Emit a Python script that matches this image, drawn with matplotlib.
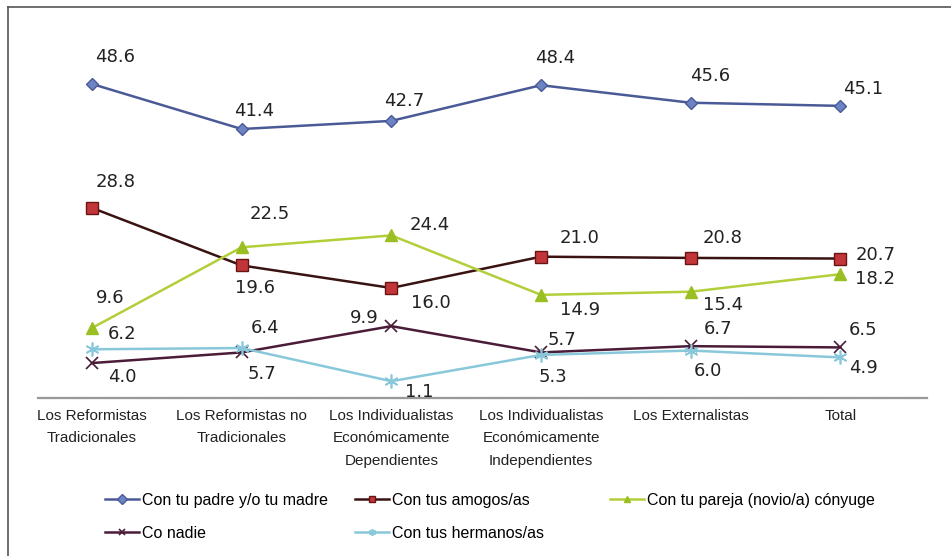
import matplotlib.pyplot as plt
from matplotlib.lines import Line2D

categories = ["Los Reformistas\nTradicionales", "Los Reformistas no\nTradicionales",
              "Los Individualistas\nEconómicamente\nDependientes",
              "Los Individualistas\nEconómicamente\nIndependientes",
              "Los Externalistas", "Total"]

padre = [48.6, 41.4, 42.7, 48.4, 45.6, 45.1]
amigos = [28.8, 19.6, 16.0, 21.0, 20.8, 20.7]
pareja = [9.6, 22.5, 24.4, 14.9, 15.4, 18.2]
nadie = [4.0, 5.7, 9.9, 5.7, 6.7, 6.5]
hermanos = [6.2, 6.4, 1.1, 5.3, 6.0, 4.9]

series_names = ["Con tu padre y/o tu madre", "Con tus amogos/as",
                "Con tu pareja (novio/a) cónyuge", "Co nadie", "Con tus hermanos/as"]

# label offsets in pixels (dx, dy), dy positive = up
off_padre = [(23, 27), (13, 18), (13, 20), (14, 27), (19, 27), (23, 17)]
off_amigos = [(24, 26), (13, -23), (40, -15), (39, 19), (32, 20), (35, 4)]
off_pareja = [(18, 30), (28, 33), (38, 10), (39, -15), (32, -13), (35, -5)]
off_nadie = [(30, -14), (20, -22), (-27, 8), (21, 12), (27, 17), (23, 17)]
off_herm = [(30, 15), (23, 20), (28, -11), (12, -22), (17, -20), (23, -11)]

fig = plt.figure(figsize=(9.51, 5.56), dpi=100)
ax = fig.add_axes([0.040, 0.284, 0.935, 0.637])

x = list(range(len(categories)))

styles = [
    (padre, off_padre, dict(color='#4a5a96', marker='D', markersize=6,
                            markerfacecolor='#6d84c4', markeredgecolor='#4a5a96')),
    (amigos, off_amigos, dict(color='#3a1212', marker='s', markersize=8,
                              markerfacecolor='#c2363a', markeredgecolor='#6a1414')),
    (pareja, off_pareja, dict(color='#b2cf3a', marker='^', markersize=9,
                              markerfacecolor='#99bf22', markeredgecolor='#99bf22')),
    (nadie, off_nadie, dict(color='#4b1c38', marker='x', markersize=9,
                            markeredgewidth=1.2)),
    (hermanos, off_herm, dict(color='#88c8da', marker=(6, 2, 0), markersize=10,
                              markeredgewidth=1.2)),
]

handles = []
for (vals, offs, st), name in zip(styles, series_names):
    h, = ax.plot(x, vals, linewidth=1.8, label=name, **st)
    handles.append(h)
    for xi, v, (dx, dy) in zip(x, vals, offs):
        ax.annotate(f"{v:.1f}", (xi, v), xytext=(dx, dy), textcoords='offset pixels',
                    ha='center', va='center', fontsize=13, color='#222222',
                    family='DejaVu Sans')

ax.set_xlim(-0.36, 5.58)
ax.set_ylim(-1.6, 55)
ax.set_yticks([])
ax.set_xticks(x)
ax.set_xticklabels(categories, fontsize=11, family=['Liberation Sans Narrow', 'Liberation Sans'],
                   color='#222222', linespacing=1.75)
ax.tick_params(axis='x', length=0, pad=8)
for s in ['top', 'left', 'right']:
    ax.spines[s].set_visible(False)
ax.spines['bottom'].set_color('#999999')
ax.spines['bottom'].set_linewidth(1.6)
ax.spines['bottom'].set_linestyle((0, (1, 0.6)))

# legend: three fixed-width columns like the original
legend_cols = [([0, 3], 105), ([1, 4], 355), ([2], 610)]
for idx, xpix in legend_cols:
    leg = fig.legend([handles[i] for i in idx], [series_names[i] for i in idx],
                     loc='upper left', bbox_to_anchor=(xpix / 951, 1 - 493 / 556),
                     frameon=False, borderpad=0, borderaxespad=0,
                     handlelength=2.1, handletextpad=0.2, labelspacing=1.1,
                     prop=dict(family=['Liberation Sans Narrow', 'Liberation Sans'], size=11.5))
    for h in leg.legend_handles:
        h.set_markersize(5)

# outer frame: only left and top edges fall inside the picture
fig.add_artist(Line2D([8 / 951, 8 / 951], [0, 1 - 7 / 556], transform=fig.transFigure,
                      color='#555555', linewidth=1.2))
fig.add_artist(Line2D([8 / 951, 1], [1 - 7 / 556, 1 - 7 / 556], transform=fig.transFigure,
                      color='#555555', linewidth=1.2))

fig.savefig('out.png', dpi=100)
